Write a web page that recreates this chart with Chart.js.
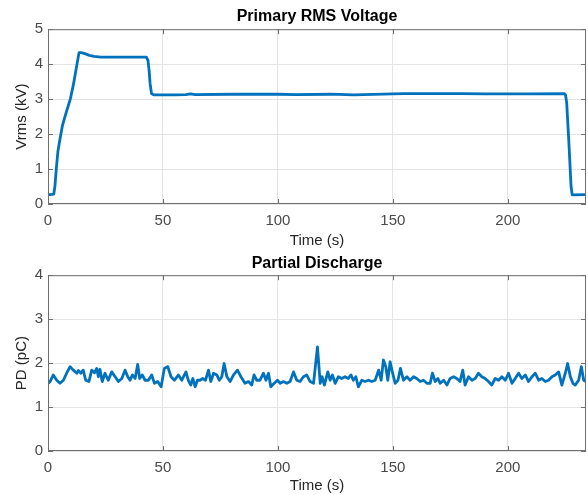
<!DOCTYPE html>
<html>
<head>
<meta charset="utf-8">
<script src="https://cdn.jsdelivr.net/npm/chart.js@4"></script>
<style>
  body { margin: 0; background: #fff; }
  .box { position: absolute; left: 0; width: 588px; }
</style>
</head>
<body>
<div class="box" style="top:0"><canvas id="voltChart" width="588" height="250"></canvas></div>
<div class="box" style="top:250px"><canvas id="pdChart" width="588" height="245"></canvas></div>
<script>
// Primary RMS voltage (kV) over time (s)
const voltTime = [0, 1, 2.5, 3.0, 3.6, 4.3, 5.2, 6.3, 7.6, 9.7, 11, 13.5, 14.5, 16, 18, 20, 23, 30, 36, 42.8,
  43.5, 44, 44.4, 45, 46, 55, 60, 62, 64, 80, 100, 108, 123, 133, 150, 155, 180, 190, 210, 224.5,
  225.1, 225.6, 226.6, 227.5, 228, 234];
const voltValue = [0.27, 0.27, 0.28, 0.5, 1.0, 1.5, 1.85, 2.25, 2.55, 3.0, 3.4, 4.33, 4.33, 4.3, 4.25, 4.22, 4.2, 4.2, 4.2, 4.2,
  4.1, 3.8, 3.45, 3.16, 3.12, 3.12, 3.13, 3.15, 3.13, 3.14, 3.14, 3.13, 3.14, 3.12, 3.15, 3.16, 3.16, 3.15, 3.15, 3.16,
  3.12, 2.9, 1.7, 0.5, 0.26, 0.27];

// Partial discharge (pC) over time (s)
const pdTime = [0, 0.9, 2.3, 3.8, 5.2, 6.7, 8.1, 9.6, 11, 12.5, 13.2, 14.3, 15.3, 16.4, 17.8, 19, 20.2, 21.2, 21.9, 22.6,
  23.6, 24.8, 26.2, 27.7, 29.2, 30.6, 32.1, 33.5, 34.7, 35.7, 36.7, 37.9, 39, 39.9, 41, 42.2, 43.7, 45.1, 46.3, 47.7,
  49.2, 50.6, 52.1, 53.5, 55, 56.7, 58.2, 60, 61, 62.1, 63, 64, 65, 66.1, 67.3, 68.5, 69.8, 70.8, 72, 73.4,
  74.5, 75.6, 76.6, 77.8, 79.2, 80.7, 82.4, 83.9, 85.7, 87.2, 88.6, 89.6, 90.8, 92.2, 93.7, 94.8, 95.9, 96.9, 98.4, 99.8,
  101, 102.4, 103.9, 105.3, 106.8, 108.2, 109.6, 111.1, 112.5, 114, 115.5, 117.2, 118.4, 119.2, 120.2, 121.7, 122.7, 123.7, 124.9, 126.3,
  127.7, 129.2, 130.6, 131.8, 132.8, 133.9, 135, 136.5, 137.9, 139.4, 140.8, 142.3, 143.8, 144.9, 145.9, 146.9, 147.8, 148.8, 149.9, 151,
  152.2, 153.3, 154.6, 156.1, 157.5, 159, 160.4, 161.9, 163.3, 164.8, 166.2, 167.2, 168.4, 169.6, 170.6, 172.1, 173.5, 174.9, 176.4, 177.8,
  179.2, 180.4, 181.4, 182.9, 184.4, 185.8, 187.2, 188.7, 190.1, 191.6, 193, 194.5, 196, 197.4, 198.9, 200.3, 201.8, 203.2, 204.7, 206.1,
  207.6, 209, 210.5, 211.9, 213.4, 214.8, 216.3, 217.7, 219.2, 220.6, 222.1, 223.5, 225, 226, 227.2, 228.3, 229.3, 230.8, 232, 233, 234];
const pdValue = [1.54, 1.58, 1.73, 1.61, 1.54, 1.61, 1.77, 1.92, 1.84, 1.77, 1.83, 1.77, 1.84, 1.61, 1.58, 1.84, 1.78, 1.88, 1.69, 1.86,
  1.58, 1.77, 1.61, 1.80, 1.69, 1.58, 1.65, 1.84, 1.69, 1.61, 1.73, 1.65, 1.97, 1.65, 1.73, 1.61, 1.61, 1.73, 1.54, 1.58,
  1.46, 1.88, 1.92, 1.69, 1.61, 1.73, 1.61, 1.80, 1.61, 1.50, 1.65, 1.46, 1.61, 1.61, 1.65, 1.61, 1.84, 1.58, 1.77, 1.73,
  1.61, 1.69, 1.99, 1.69, 1.58, 1.73, 1.84, 1.69, 1.54, 1.58, 1.50, 1.73, 1.61, 1.61, 1.77, 1.61, 1.77, 1.46, 1.54, 1.61,
  1.54, 1.58, 1.54, 1.58, 1.80, 1.61, 1.58, 1.69, 1.73, 1.58, 1.54, 2.37, 1.54, 1.69, 1.50, 1.80, 1.61, 1.73, 1.54, 1.69,
  1.65, 1.69, 1.65, 1.73, 1.61, 1.69, 1.46, 1.61, 1.58, 1.61, 1.58, 1.61, 1.84, 1.61, 2.07, 1.92, 1.61, 2.03, 1.77, 1.54,
  1.61, 1.88, 1.61, 1.69, 1.61, 1.69, 1.65, 1.58, 1.61, 1.54, 1.54, 1.77, 1.58, 1.65, 1.54, 1.61, 1.50, 1.65, 1.69, 1.65,
  1.58, 1.84, 1.50, 1.69, 1.61, 1.65, 1.77, 1.69, 1.65, 1.58, 1.50, 1.65, 1.61, 1.69, 1.61, 1.77, 1.54, 1.65, 1.77, 1.65,
  1.73, 1.58, 1.69, 1.77, 1.61, 1.65, 1.58, 1.61, 1.69, 1.73, 1.80, 1.50, 1.77, 1.99, 1.69, 1.54, 1.50, 1.61, 1.92, 1.61, 1.58];

const timeMax = 234;
const lineColor = "#0072BD";
const tickColor = "#4a4a4a";

// box + inward tick marks like MATLAB axes
const axesBox = {
  id: "axesBox",
  afterDraw(chart) {
    const { ctx, chartArea: a, scales } = chart;
    ctx.save();
    ctx.strokeStyle = "#6e6e6e";
    ctx.lineWidth = 1;
    ctx.strokeRect(a.left + 0.5, a.top + 0.5, a.right - a.left - 1, a.bottom - a.top - 1);
    ctx.beginPath();
    scales.x.ticks.forEach((t) => {
      const px = Math.round(scales.x.getPixelForValue(t.value)) + 0.5;
      ctx.moveTo(px, a.bottom); ctx.lineTo(px, a.bottom - 5);
      ctx.moveTo(px, a.top); ctx.lineTo(px, a.top + 5);
    });
    scales.y.ticks.forEach((t) => {
      const py = Math.round(scales.y.getPixelForValue(t.value)) + 0.5;
      ctx.moveTo(a.left, py); ctx.lineTo(a.left + 5, py);
      ctx.moveTo(a.right, py); ctx.lineTo(a.right - 5, py);
    });
    ctx.stroke();
    ctx.restore();
  },
};

function makeChart(id, title, yLabel, times, values, yMax, xHeight, titlePad) {
  const points = times.map((t, i) => ({ x: t, y: values[i] }));
  return new Chart(document.getElementById(id), {
    type: "line",
    data: {
      datasets: [{
        data: points,
        borderColor: lineColor,
        borderWidth: 2.8,
        borderJoinStyle: "round",
        borderCapStyle: "round",
        pointRadius: 0,
        tension: 0,
        fill: false,
      }],
    },
    options: {
      responsive: false,
      animation: false,
      layout: { padding: { left: 0, right: 2, top: 0, bottom: 0 } },
      plugins: {
        legend: { display: false },
        tooltip: { enabled: false },
        title: {
          display: true,
          text: title,
          fullSize: false,
          color: "#000",
          font: { family: "Liberation Sans, Arial, sans-serif", size: 16, weight: "bold" },
          padding: titlePad,
        },
      },
      scales: {
        x: {
          type: "linear",
          min: 0,
          max: timeMax,
          afterFit: (s) => { s.height = xHeight; },
          grid: { color: "#e4e4e4", drawTicks: false },
          border: { display: false },
          ticks: {
            stepSize: 50,
            includeBounds: false,
            maxRotation: 0,
            padding: 8,
            color: tickColor,
            font: { family: "Liberation Sans, Arial, sans-serif", size: 15 },
          },
          title: {
            display: true,
            text: "Time (s)",
            color: "#262626",
            padding: { top: 0, bottom: 0 },
            font: { family: "Liberation Sans, Arial, sans-serif", size: 15 },
          },
        },
        y: {
          min: 0,
          max: yMax,
          afterFit: (s) => { s.width = 48; },
          grid: { color: "#e4e4e4", drawTicks: false },
          border: { display: false },
          ticks: {
            stepSize: 1,
            padding: 5,
            color: tickColor,
            font: { family: "Liberation Sans, Arial, sans-serif", size: 15 },
          },
          title: {
            display: true,
            text: yLabel,
            color: "#262626",
            padding: { top: 13, bottom: 0 },
            font: { family: "Liberation Sans, Arial, sans-serif", size: 15 },
          },
        },
      },
    },
    plugins: [axesBox],
  });
}

makeChart("voltChart", "Primary RMS Voltage", "Vrms (kV)", voltTime, voltValue, 5, 46, { top: 7, bottom: 3 });
makeChart("pdChart", "Partial Discharge", "PD (pC)", pdTime, pdValue, 4, 44, { top: 4, bottom: 2 });
</script>
</body>
</html>
